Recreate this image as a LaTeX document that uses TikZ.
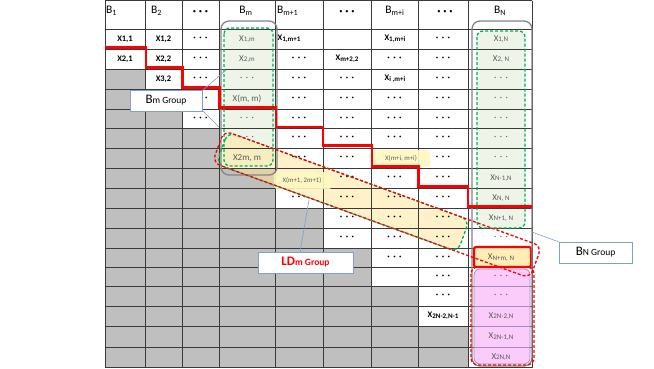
\documentclass[tikz,border=0pt]{standalone}
\usepackage{fontspec}
\setmainfont{Carlito}
\usetikzlibrary{calc}
\definecolor{gridc}{HTML}{3A3A3A}
\definecolor{grayc}{HTML}{BFBFBF}
\definecolor{lgreen}{HTML}{EEF5E8}
\definecolor{gdash}{HTML}{00B050}
\definecolor{bandc}{HTML}{FFE699}
\definecolor{pinkc}{HTML}{FBCBF9}
\definecolor{purpc}{HTML}{A58CC8}
\definecolor{callc}{HTML}{7F9FCC}
\definecolor{txtg}{HTML}{5A5A5A}
\definecolor{hyel}{HTML}{FFF8C0}
\definecolor{outg}{HTML}{858585}
\newcommand\ix[2]{#1{\fontsize{7}{7}\selectfont\raisebox{-0.8pt}{#2}}}
\newcommand\tdots{·\hspace{3.4pt}·\hspace{3.4pt}·}
\newcommand\hdots{{\fontsize{6.5}{6.5}\selectfont •\hspace{2.8pt}•\hspace{2.8pt}•}}
\begin{document}
\begin{tikzpicture}[x=1pt,y=-1pt,
  every node/.style={inner sep=0pt, outer sep=0pt},
  bt/.style={font=\fontsize{8.5}{9}\selectfont\bfseries},
  gt/.style={font=\fontsize{9}{9}\selectfont, text=txtg},
  st/.style={font=\fontsize{6.8}{7}\selectfont, text=txtg},
  dotc/.style={font=\fontsize{9}{9}\selectfont\bfseries},
  gdot/.style={font=\fontsize{9}{9}\selectfont, text=txtg},
  hd/.style={font=\fontsize{11.5}{12}\selectfont, anchor=base},
  callbox/.style={draw=callc, fill=white, line width=0.8pt, anchor=north west},
  callline/.style={draw=callc, line width=0.6pt},
  gdash/.style={draw=gdash, line width=1.3pt, dash pattern=on 3pt off 2pt},
  rdash/.style={draw=red, line width=1.3pt, dash pattern=on 3pt off 2pt},
  gbox/.style={draw=outg, line width=1.3pt, rounded corners=8pt}]
\useasboundingbox (0,0) rectangle (654,368);
\fill[white] (0,0) rectangle (654,368);
% gray (lower) cells
\fill[grayc] (105,69) rectangle (145,367);
\fill[grayc] (145,89) rectangle (182,367);
\fill[grayc] (182,128) rectangle (219,367);
\fill[grayc] (219,168) rectangle (275,367);
\fill[grayc] (275,208) rectangle (323,367);
\fill[grayc] (323,248) rectangle (371,367);
\fill[grayc] (371,286) rectangle (418,367);
\fill[grayc] (418,326) rectangle (468,367);
% light green group fills
\fill[lgreen, rounded corners=6pt] (224,28) rectangle (273,166);
\fill[lgreen, rounded corners=6pt] (477,31) rectangle (525,228);
% LDm band fill
\begin{scope}[shift={(222,148)}, rotate=-20]
  \fill[bandc, fill opacity=0.5, rounded corners=8pt] (0,-17) rectangle (257,17);
\end{scope}
% grid
\foreach \x in {105,145,182,219,275,323,371,418,468,532}
  \draw[gridc, line width=0.8pt] (\x,0.5) -- (\x,367.5);
\foreach \y in {0.5,29,49,69,89,109,128,148,168,188,208,228,248,267,286,306,326,347,367.5}
  \draw[gridc, line width=0.8pt] (105,\y) -- (532,\y);
% highlights
\fill[hyel, fill opacity=0.9, rounded corners=3pt] (372,150) rectangle (430,167);
\fill[hyel, fill opacity=0.9, rounded corners=3pt] (274,172) rectangle (332,189);
\fill[pinkc, draw=purpc, line width=0.8pt, rounded corners=6pt] (474,269) rectangle (530,364);
\foreach \y in {286,306,326,347}
  \draw[purpc, line width=0.6pt] (474,\y) -- (530,\y);
\filldraw[fill=bandc!70!white, draw=red, line width=2.2pt, rounded corners=2pt] (474,247) rectangle (531,267);
% header
\node[hd, anchor=base west] (h1) at (106,13.5) {B\textsubscript{1}};
\node[hd, anchor=base west] (h2) at (151,13.5) {B\textsubscript{2}};
\node[hd] (h3) at (200.5,13.5) {\hdots};
\node[hd] (h4) at (246,13.5) {B\textsubscript{m}};
\node[hd, anchor=base west] (h5) at (277,13.5) {B\textsubscript{m+1}};
\node[hd] (h6) at (347,13.5) {\hdots};
\node[hd] (h7) at (395,13.5) {B\textsubscript{m+i}};
\node[hd] (h8) at (445,13.5) {\hdots};
\node[hd] (h9) at (500,13.5) {B\textsubscript{N}};
% bold cells
\node[bt] (x11) at (125,39) {X1,1};
\node[bt] (x12) at (163.5,39) {X1,2};
\node[bt] (x21) at (125,59) {X2,1};
\node[bt] (x22) at (163.5,59) {X2,2};
\node[bt] (x32) at (163.5,79) {X3,2};
\node[bt] (x1m1) at (289,39) {\ix{X}{1,m+1}};
\node[bt] (x1mi) at (395,39) {\ix{X}{1,m+i}};
\node[bt] (xm22) at (347,59) {\ix{X}{m+2,2}};
\node[bt] (ximi) at (395,79) {\ix{X}{i ,m+i}};
\node[bt] (x2n2) at (443,316) {\ix{X}{2N-2,N-1}};
% Bm column
\node[gt] (x1m) at (247,39) {\ix{X}{1,m}};
\node[gt] (x2m) at (247,59) {\ix{X}{2,m}};
\node[gdot] (bd3) at (247,79) {\tdots};
\node[gt] (xmm) at (247,99) {X(m, m)};
\node[gdot] (bd5) at (247,118.5) {\tdots};
\node[gdot] (bd6) at (247,138) {\tdots};
\node[gt] (x2mm) at (247,158) {X2m, m};
% BN column
\node[gt] (x1n) at (501,39) {\ix{X}{1,N}};
\node[gt] (x2n) at (501,59) {\ix{X}{2, N}};
\foreach \y/\n in {79/3,99/4,118.5/5,138/6,158/7,238/11,276.5/13,296/14}
  \node[gdot] (nd\n) at (501,\y) {\tdots};
\node[gt] (xn1n) at (501,178) {\ix{X}{N-1,N}};
\node[gt] (xnn) at (501,198) {\ix{X}{N, N}};
\node[gt] (xnp1) at (501,218) {\ix{X}{N+1, N}};
\node[gt] (xnmn) at (501,257.5) {\ix{X}{N+m, N}};
\node[gt] (x2n2n) at (501,316) {\ix{X}{2N-2,N}};
\node[gt] (x2n1n) at (501,336.5) {\ix{X}{2N-1,N}};
\node[gt] (x2nn) at (501,357) {\ix{X}{2N,N}};
% small labels
\node[st] (xmimi) at (401,158) {X(m+i, m+i)};
\node[st] (xm2) at (302,180) {X(m+1, 2m+1)};
% black dots
\foreach \x/\y/\n in {200.5/39/a,443/39/b,
  200.5/59/c,299/59/d,394.5/59/e,443/59/f,
  200.5/79/g,299/79/h,347/79/i,443/79/j,
  200.5/99/k,299/99/l,347/99/m,394.5/99/n,443/99/o,
  200.5/118.5/p,299/118.5/q,347/118.5/r,394.5/118.5/s,443/118.5/t,
  299/138/u,347/138/v,394.5/138/w,443/138/x,
  299/158/y,347/158/z,443/158/aa,
  347/178/ab,394.5/178/ac,443/178/ad,
  299/198/ae,347/198/af,394.5/198/ag,443/198/ah,
  347/218/ai,394.5/218/aj,443/218/ak,
  347/238/al,394.5/238/am,443/238/an,
  394.5/257.5/ao,443/257.5/ap,
  443/276.5/aq,443/296/ar}
  \node[dotc] (dd\n) at (\x,\y) {\tdots};
% group outlines
\draw[gbox] (221,21) rectangle (277,175);
\draw[gbox] (472,21) rectangle (532,366);
\draw[gdash, rounded corners=6pt] (224,28) rectangle (273,166);
\draw[gdash, rounded corners=6pt] (477,31) rectangle (525,228);
\draw[rdash, rounded corners=7pt] (471,267) rectangle (534,365);
\begin{scope}[shift={(222,148)}, rotate=-20]
  \draw[gdash, rounded corners=8pt] (0,-17) rectangle (257,17);
\end{scope}
\begin{scope}[shift={(218.2,146.6)}, rotate=-20]
  \draw[rdash, dash phase=2.5pt, rounded corners=8pt] (0,-17) rectangle (338,17);
\end{scope}
% red staircase
\draw[red, line width=2.4pt] (105,47.5) -| (146,67.5) -| (182.5,87.5) -| (219.5,107.5)
  -| (276,127) -| (323,145.5) -| (372,166.5) -| (418.5,186.5) -| (468,206.5) -- (532,206.5);
% callouts
\coordinate (bmp1) at (226,70);
\coordinate (bmp2) at (219,127);
\coordinate (ldp) at (309,200);
\coordinate (bnp) at (532,232);
\draw[callline] (202,91) -- (bmp1);
\draw[callline] (202,110) -- (bmp2);
\node[callbox, minimum width=72pt, minimum height=21pt] (bmg) at (130,90)
  {{\fontsize{13}{14}\selectfont B}{\fontsize{9.5}{10}\selectfont m Group}};
\node[callbox, minimum width=95pt, minimum height=21pt, text=red, font=\bfseries] (ldg) at (258,252)
  {{\fontsize{13}{14}\selectfont LD}{\fontsize{9.5}{10}\selectfont m Group}};
\node[callbox, minimum width=73pt, minimum height=21pt] (bng) at (559,242)
  {{\fontsize{13}{14}\selectfont B}{\fontsize{9.5}{10}\selectfont N Group}};
\draw[callline] ($(ldg.north west)+(42,0)$) -- (ldp);
\draw[callline] (bng.north west) -- (bnp);
\end{tikzpicture}
\end{document}
